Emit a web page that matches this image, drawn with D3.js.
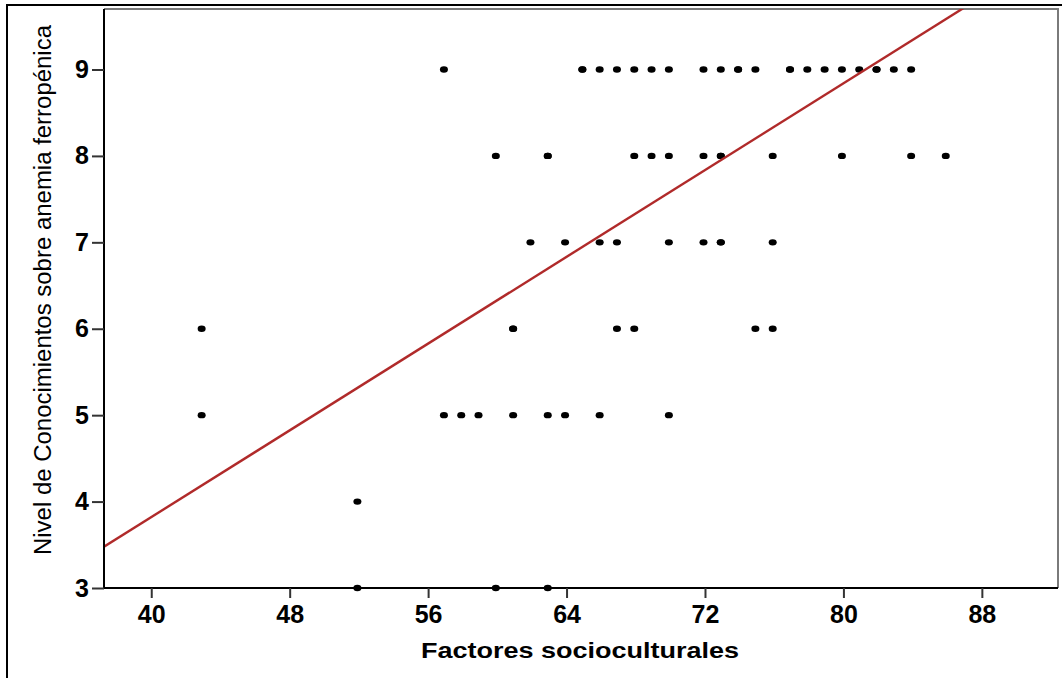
<!DOCTYPE html>
<html>
<head>
<meta charset="utf-8">
<script src="https://cdn.jsdelivr.net/npm/d3@7"></script>
<style>
  html,body{margin:0;padding:0;background:#fff;}
  svg{display:block;}
</style>
</head>
<body>
<svg id="chart" width="1062" height="678"></svg>
<script>
// values: one list of x per knowledge level
const level9=[57,65,65,66,67,68,69,70,72,73,74,74,75,77,77,78,79,80,81,82,82,83,84];
const level8=[60,63,63,68,69,70,72,73,73,76,80,84,86];
const level7=[62,64,66,67,70,72,73,73,76];
const level6=[43,61,61,67,68,75,76];
const level5=[43,57,58,59,61,63,64,66,70];
const level4=[52];
const level3=[52,60,63];

const xTicks=[40,48,56,64,72,80,88];
const yTicks=[3,4,5,6,7,8,9];

// fitted line
const fitIntercept=-1.2, fitSlope=0.1255;

const xTitle="Factores socioculturales";
const yTitle="Nivel de Conocimientos sobre anemia ferropénica";

const points=[];
[[9,level9],[8,level8],[7,level7],[6,level6],[5,level5],[4,level4],[3,level3]]
  .forEach(([y,xs])=>xs.forEach(x=>points.push({x,y})));

const svg=d3.select("#chart");
const plot={left:104,right:1058,top:9,bottom:588};

const x=d3.scaleLinear().domain([37.27,92.4]).range([plot.left,plot.right]);
const y=d3.scaleLinear().domain([3,9.7]).range([plot.bottom,plot.top]);

// outer border (top and left only visible)
svg.append("path").attr("d","M7,678V5H1062").attr("fill","none").attr("stroke","#000").attr("stroke-width",2);

// plot frame, grey top/right
svg.append("path")
  .attr("d",`M${plot.left},${plot.top}H${plot.right}V${plot.bottom}`)
  .attr("fill","none").attr("stroke","#7a7a7a").attr("stroke-width",2);

svg.append("clipPath").attr("id","clip").append("rect")
  .attr("x",plot.left).attr("y",plot.top).attr("width",plot.right-plot.left).attr("height",plot.bottom-plot.top);

// dots
svg.append("g").selectAll("ellipse").data(points).join("ellipse")
  .attr("cx",d=>x(d.x)-1.5).attr("cy",d=>y(d.y)).attr("rx",4).attr("ry",3.2)
  .attr("fill","#000");

// fit line
const xs=x.domain();
svg.append("g").attr("clip-path","url(#clip)").append("line")
  .attr("x1",x(xs[0])).attr("y1",y(fitIntercept+fitSlope*xs[0]))
  .attr("x2",x(xs[1])).attr("y2",y(fitIntercept+fitSlope*xs[1]))
  .attr("stroke","#b02a2a").attr("stroke-width",2.4);

// axes
const xAxis=svg.append("g").attr("transform",`translate(0,${plot.bottom})`)
  .call(d3.axisBottom(x).tickValues(xTicks).tickFormat(d3.format("d")).tickSize(10).tickSizeOuter(0).tickPadding(7));
const yAxis=svg.append("g").attr("transform",`translate(${plot.left},0)`)
  .call(d3.axisLeft(y).tickValues(yTicks).tickFormat(d3.format("d")).tickSize(12).tickSizeOuter(0).tickPadding(3));

[xAxis,yAxis].forEach(g=>{
  g.select(".domain").attr("stroke","#000").attr("stroke-width",2);
  g.selectAll(".tick line").attr("stroke","#333").attr("stroke-width",2);
  g.selectAll(".tick text").attr("fill","#000")
    .style("font-family","'Liberation Sans',Arial,sans-serif")
    .style("font-size","25px").style("font-weight","bold");
});
yAxis.select(".domain").attr("d",`M0,${plot.bottom}V${plot.top}`);
xAxis.select(".domain").attr("d",`M${plot.left},0H${plot.right}`);

// titles
svg.append("text").attr("x",580).attr("y",658).attr("text-anchor","middle")
  .style("font-family","'Liberation Sans',Arial,sans-serif").style("font-size","22px").style("font-weight","bold")
  .attr("textLength",318).attr("lengthAdjust","spacingAndGlyphs")
  .text(xTitle);

svg.append("text").attr("transform","translate(51,290) rotate(-90)").attr("text-anchor","middle")
  .style("font-family","'Liberation Sans Narrow','Arial Narrow','Liberation Sans',sans-serif").style("font-size","23px")
  .attr("textLength",530).attr("lengthAdjust","spacingAndGlyphs")
  .text(yTitle);
</script>
</body>
</html>
